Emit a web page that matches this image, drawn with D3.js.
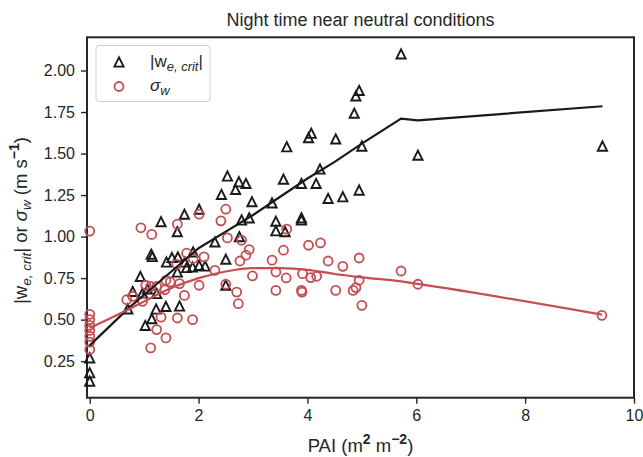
<!DOCTYPE html>
<html>
<head>
<meta charset="utf-8">
<script src="https://cdn.jsdelivr.net/npm/d3@7"></script>
<style>
  body { margin: 0; background: #fff; }
  svg text, svg tspan { font-family: "Liberation Sans", Arial, sans-serif; fill: #262626; }
</style>
</head>
<body>
<svg id="chart" width="643" height="457"></svg>
<script>
// |w_e,crit| points (triangles)
var critPAI = [0, 0, 0, 0.70, 0.79, 0.93, 0.97, 1.02, 1.06, 1.13, 1.14, 1.15, 1.22, 1.23, 1.31, 1.40, 1.41,
  1.51, 1.61, 1.61, 1.62, 1.65, 1.74, 1.75, 1.78, 1.89, 1.90, 2.01, 2.01, 2.12, 2.30, 2.42, 2.50, 2.50,
  2.53, 2.68, 2.74, 2.75, 2.79, 2.87, 2.93, 2.98, 3.35, 3.42, 3.42, 3.56, 3.59, 3.62, 3.89, 3.89, 3.89,
  4.02, 4.07, 4.16, 4.23, 4.38, 4.52, 4.65, 4.86, 4.89, 4.95, 4.95, 5.00, 5.72, 6.03, 9.42];
var critW = [0.13, 0.18, 0.27, 0.565, 0.67, 0.76, 0.66, 0.465, 0.685, 0.894, 0.506, 0.88, 0.564, 0.657, 1.09, 0.58, 0.847,
  0.874, 0.787, 1.03, 0.878, 0.582, 1.135, 0.847, 0.814, 0.817, 0.908, 1.165, 0.827, 0.823, 0.968, 1.254, 0.864, 0.707,
  1.365, 1.284, 1.33, 1.00, 1.10, 1.32, 1.113, 1.21, 1.203, 1.093, 1.035, 1.346, 1.03, 1.541, 1.32, 1.113, 1.10,
  1.596, 1.622, 1.32, 1.407, 1.23, 1.588, 1.24, 1.743, 1.847, 1.88, 1.28, 1.545, 2.10, 1.49, 1.545];

// sigma_w points (circles)
var sigmaPAI = [0, 0, 0, 0, 0, 0, 0, 0, 0.68, 0.79, 0.94, 0.97, 1.03, 1.12, 1.12, 1.14, 1.23, 1.23, 1.31, 1.38,
  1.40, 1.40, 1.48, 1.60, 1.61, 1.61, 1.65, 1.74, 1.78, 1.89, 1.90, 2.01, 2.01, 2.10, 2.30, 2.41, 2.50, 2.50,
  2.53, 2.70, 2.73, 2.76, 2.79, 2.87, 2.93, 2.99, 3.35, 3.42, 3.42, 3.56, 3.61, 3.62, 3.89, 3.90, 3.91, 4.02,
  4.06, 4.17, 4.24, 4.38, 4.52, 4.65, 4.84, 4.89, 4.95, 4.95, 5.00, 5.72, 6.03, 9.41];
var sigmaW = [1.033, 0.532, 0.50, 0.465, 0.435, 0.40, 0.365, 0.32, 0.62, 0.64, 1.053, 0.61, 0.707, 0.70, 0.33, 1.013,
  0.70, 0.44, 0.515, 0.68, 0.737, 0.39, 0.727, 0.833, 1.075, 0.51, 0.717, 0.646, 0.90, 0.50, 0.868, 1.135, 0.707,
  0.878, 0.797, 1.095, 1.165, 0.713, 0.992, 0.666, 0.596, 0.853, 0.978, 0.888, 0.922, 0.763, 0.858, 0.787, 0.676,
  0.918, 0.751, 1.045, 0.676, 0.666, 0.777, 0.948, 0.753, 0.761, 0.962, 0.853, 0.676, 0.821, 0.676, 0.693, 0.871,
  0.737, 0.586, 0.793, 0.713, 0.526];

// fitted curves
var fitCritPAI = [0, 0.7, 1.0, 1.5, 2.0, 2.5, 3.0, 3.5, 4.0, 4.5, 5.0, 5.72, 6.03, 9.42];
var fitCritW = [0.345, 0.565, 0.65, 0.79, 0.93, 1.03, 1.13, 1.24, 1.35, 1.45, 1.56, 1.71, 1.70, 1.785];
var fitSigmaPAI = [0, 0.7, 1.0, 1.5, 2.0, 2.5, 3.0, 3.5, 4.0, 4.5, 5.0, 5.72, 6.03, 9.41];
var fitSigmaW = [0.45, 0.56, 0.61, 0.69, 0.75, 0.79, 0.81, 0.81, 0.80, 0.775, 0.755, 0.73, 0.715, 0.53];

var xTicks = [0, 2, 4, 6, 8, 10];
var yTicks = [0.25, 0.50, 0.75, 1.00, 1.25, 1.50, 1.75, 2.00];

(function () {
  var svg = d3.select('#chart');
  var pL = 87, pR = 634, pT = 37.3, pB = 397.7;
  var black = '#1a1a1a', red = '#c44e52';

  var x = d3.scaleLinear().domain([-0.05, 10]).range([pL, pR]);
  var y = d3.scaleLinear().domain([0.03, 2.20]).range([pB, pT]);

  // axes
  var xAxis = svg.append('g')
    .attr('transform', 'translate(0,' + pB + ')')
    .call(d3.axisBottom(x).tickValues(xTicks).tickSize(6).tickPadding(6).tickFormat(d3.format('d')));
  var yAxis = svg.append('g')
    .attr('transform', 'translate(' + pL + ',0)')
    .call(d3.axisLeft(y).tickValues(yTicks).tickSize(6).tickPadding(6).tickFormat(d3.format('.2f')));
  [xAxis, yAxis].forEach(function (a) {
    a.select('.domain').remove();
    a.selectAll('.tick line').attr('stroke', '#262626').attr('stroke-width', 1.4);
    a.selectAll('.tick text').style('font-size', '16px').style('font-family', '"Liberation Sans", Arial, sans-serif').attr('fill', '#262626');
  });

  // frame
  svg.append('rect')
    .attr('x', pL).attr('y', pT)
    .attr('width', pR - pL).attr('height', pB - pT)
    .attr('fill', 'none').attr('stroke', '#262626').attr('stroke-width', 2);

  var plot = svg.append('g');

  var tri = function (s) { return 'M0,' + (-s) + 'L' + (-s) + ',' + s + 'L' + s + ',' + s + 'Z'; };

  plot.selectAll('.crit')
    .data(critPAI.map(function (p, i) { return [p, critW[i]]; }))
    .enter().append('path')
    .attr('class', 'crit')
    .attr('d', tri(4.6))
    .attr('transform', function (d) { return 'translate(' + x(d[0]) + ',' + y(d[1]) + ')'; })
    .attr('fill', 'none').attr('stroke', black).attr('stroke-width', 1.9);

  plot.selectAll('.sigma')
    .data(sigmaPAI.map(function (p, i) { return [p, sigmaW[i]]; }))
    .enter().append('circle')
    .attr('class', 'sigma')
    .attr('cx', function (d) { return x(d[0]); })
    .attr('cy', function (d) { return y(d[1]); })
    .attr('r', 4.5)
    .attr('fill', 'none').attr('stroke', red).attr('stroke-width', 1.8);

  plot.append('path')
    .datum(fitCritPAI.map(function (p, i) { return [p, fitCritW[i]]; }))
    .attr('d', d3.line().x(function (d) { return x(d[0]); }).y(function (d) { return y(d[1]); }))
    .attr('fill', 'none').attr('stroke', black).attr('stroke-width', 2.2);

  plot.append('path')
    .datum(fitSigmaPAI.map(function (p, i) { return [p, fitSigmaW[i]]; }))
    .attr('d', d3.line().curve(d3.curveMonotoneX).x(function (d) { return x(d[0]); }).y(function (d) { return y(d[1]); }))
    .attr('fill', 'none').attr('stroke', red).attr('stroke-width', 2.2);

  // title
  svg.append('text')
    .attr('x', (pL + pR) / 2).attr('y', 26)
    .attr('text-anchor', 'middle')
    .style('font-size', '18px')
    .text('Night time near neutral conditions');

  // x label
  var xl = svg.append('text')
    .attr('x', (pL + pR) / 2).attr('y', 452)
    .attr('text-anchor', 'middle')
    .style('font-size', '18.5px');
  xl.append('tspan').text('PAI (m');
  xl.append('tspan').attr('dy', -8).style('font-size', '14px').style('font-weight', 'bold').text('2');
  xl.append('tspan').attr('dy', 8).text(' m');
  xl.append('tspan').attr('dy', -8).style('font-size', '14px').style('font-weight', 'bold').text('\u22122');
  xl.append('tspan').attr('dy', 8).text(')');

  // y label
  var yl = svg.append('text')
    .attr('transform', 'translate(27,' + ((pT + pB) / 2 + 3) + ') rotate(-90)')
    .attr('text-anchor', 'middle')
    .style('font-size', '18.5px');
  yl.append('tspan').text('|w');
  yl.append('tspan').attr('dy', 4).style('font-size', '13.5px').style('font-style', 'italic').text('e, crit');
  yl.append('tspan').attr('dy', -4).text('| or ');
  yl.append('tspan').style('font-style', 'italic').text('\u03c3');
  yl.append('tspan').attr('dy', 4).style('font-size', '13.5px').style('font-style', 'italic').text('w');
  yl.append('tspan').attr('dy', -4).text(' (m s');
  yl.append('tspan').attr('dy', -8).style('font-size', '14px').style('font-weight', 'bold').text('\u22121');
  yl.append('tspan').attr('dy', 8).text(')');

  // legend
  var lg = svg.append('g');
  lg.append('rect')
    .attr('x', 96).attr('y', 45.5).attr('width', 114).attr('height', 56)
    .attr('rx', 3).attr('fill', '#fff').attr('stroke', '#d0d0d0').attr('stroke-width', 1);
  lg.append('path')
    .attr('d', tri(4.6))
    .attr('transform', 'translate(119,62)')
    .attr('fill', 'none').attr('stroke', black).attr('stroke-width', 1.9);
  lg.append('circle')
    .attr('cx', 119).attr('cy', 86.5).attr('r', 4.5)
    .attr('fill', 'none').attr('stroke', red).attr('stroke-width', 1.8);
  var l1 = lg.append('text').attr('x', 150).attr('y', 67).style('font-size', '17px');
  l1.append('tspan').text('|w');
  l1.append('tspan').attr('dy', 4).style('font-size', '13px').style('font-style', 'italic').text('e, crit');
  l1.append('tspan').attr('dy', -4).text('|');
  var l2 = lg.append('text').attr('x', 150).attr('y', 91).style('font-size', '17px');
  l2.append('tspan').style('font-style', 'italic').text('\u03c3');
  l2.append('tspan').attr('dy', 4).style('font-size', '13px').style('font-style', 'italic').text('w');
})();
</script>
</body>
</html>
